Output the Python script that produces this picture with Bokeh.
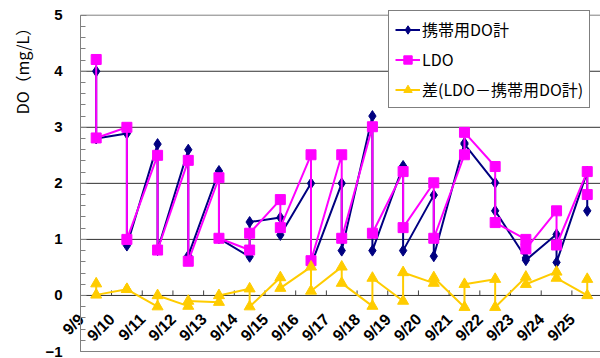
import numpy as np
from bokeh.plotting import figure
from bokeh.models import (Range1d, LinearAxis, FixedTicker, SingleIntervalTicker, Legend,
                          LegendItem, Label)
from bokeh.embed import file_html
from bokeh.resources import INLINE

# ---- data ----
dates = ["9/9", "9/10", "9/11", "9/12", "9/13", "9/14", "9/15", "9/16", "9/17",
         "9/18", "9/19", "9/20", "9/21", "9/22", "9/23", "9/24", "9/25"]
# two measurements per day (first, second)
portable_1 = [4.00, 2.89, 2.70, 2.60, 2.22, 0.69, 1.39, 2.00, 2.00, 3.20, 2.31, 1.79, 2.72, 2.01, 0.67, 1.09, 2.21]
portable_2 = [2.80, 0.89, 0.81, 0.71, 1.02, 1.31, 1.08, 0.54, 0.80, 0.80, 0.80, 0.70, 2.70, 1.51, 0.63, 0.59, 1.51]
ldo_1 = [4.21, 3.00, 2.50, 2.41, 2.10, 0.81, 1.71, 2.51, 2.51, 3.01, 2.21, 2.01, 2.51, 2.30, 1.00, 1.51, 2.21]
ldo_2 = [2.81, 1.00, 0.81, 0.61, 1.02, 1.11, 1.21, 0.62, 1.02, 1.11, 1.21, 1.02, 2.91, 1.30, 0.83, 0.90, 1.80]
diff_1 = [0.21, 0.11, -0.20, -0.19, -0.12, 0.12, 0.32, 0.51, 0.51, -0.19, -0.10, 0.22, -0.21, 0.29, 0.33, 0.42, 0.00]
diff_2 = [0.01, 0.11, 0.00, -0.10, 0.00, -0.20, 0.13, 0.08, 0.22, 0.31, 0.41, 0.32, 0.20, -0.21, 0.20, 0.31, 0.29]

series_names = ["携帯用DO計", "LDO", "差(LDO－携帯用DO計)"]
y_label = "DO（mg/L）"
y_min, y_max = -1, 5
y_ticks = list(range(y_min, y_max + 1))

NAVY = "#000080"
PINK = "#FF00FF"
YELLOW = "#FFCC00"

# ---- layout (pixels) ----
W, H = 600, 358
AXIS_PX = 80.0      # x pixel of the value axis
CAT0_PX = 95.7      # x pixel of first day
STEP_PX = 30.69     # pixels per day
TOP_PX = 14.7       # y pixel of y_max
BOT_PX = 351.0      # y pixel of y_min

n = len(dates)
unit = (BOT_PX - TOP_PX) / (y_max - y_min)
x_start = -CAT0_PX / STEP_PX
x_end = (W - CAT0_PX) / STEP_PX
ax_x = (AXIS_PX - CAT0_PX) / STEP_PX
y_top = y_max + TOP_PX / unit
y_bot = y_min - (H - BOT_PX) / unit

xs = [i for i in range(n) for _ in (0, 1)]


def interleave(a, b):
    return [v for pair in zip(a, b) for v in pair]


portable = interleave(portable_1, portable_2)
ldo = interleave(ldo_1, ldo_2)
diff = interleave(diff_1, diff_2)

p = figure(width=W, height=H, output_backend="svg", toolbar_location=None,
           x_range=Range1d(x_start, x_end), y_range=Range1d(y_bot, y_top),
           x_axis_location=None, y_axis_location=None,
           min_border_left=0, min_border_right=0, min_border_top=0, min_border_bottom=0)
p.background_fill_color = "white"
p.border_fill_color = "white"
p.outline_line_color = None
p.grid.visible = False

# horizontal grid lines (outer ones form the plot border)
grid_colors = ["#808080" if t in (y_min, y_max) else "#303030" for t in y_ticks]
p.segment(x0=[ax_x] * len(y_ticks), x1=[x_end] * len(y_ticks), y0=y_ticks, y1=y_ticks,
          line_color=grid_colors, line_width=1)

# value axis
ya = LinearAxis(fixed_location=ax_x, bounds=(y_min, y_max),
                ticker=SingleIntervalTicker(interval=1, num_minor_ticks=5),
                major_label_text_font="Liberation Sans",
                major_label_text_font_style="bold",
                major_label_text_font_size="15px",
                major_label_text_color="black",
                major_label_standoff=18,
                axis_line_color="#808080",
                major_tick_in=6, major_tick_out=0,
                minor_tick_in=5, minor_tick_out=0,
                major_tick_line_color="#808080", minor_tick_line_color="#808080")
p.add_layout(ya, "left")

p.add_layout(Label(x=21.5, y=H - 66.5, x_units="screen", y_units="screen", text=y_label,
                   angle=np.pi / 2, text_align="center", text_baseline="middle",
                   text_font="Noto Sans CJK JP", text_font_size="16px",
                   text_color="black"))

# category tick marks between days, on the zero line
bounds = [i + 0.5 for i in range(n - 1)]
p.segment(x0=bounds, y0=[0] * len(bounds), x1=bounds, y1=[5.0 / unit] * len(bounds),
          line_color="#404040", line_width=1)

# rotated date labels along the zero line
label_pos = [i - 0.49 for i in range(n)]
xa = LinearAxis(fixed_location=0,
                ticker=FixedTicker(ticks=label_pos),
                major_label_overrides={t: d for t, d in zip(label_pos, dates)},
                major_label_orientation=np.pi / 4,
                major_label_standoff=21,
                major_tick_in=0, major_tick_out=0,
                axis_line_color=None,
                major_label_text_font="Liberation Sans",
                major_label_text_font_style="bold",
                major_label_text_font_size="16px",
                major_label_text_color="black")
p.add_layout(xa, "below")

# series
r1 = p.line(xs, portable, line_color=NAVY, line_width=2)
s1 = p.scatter(xs, portable, marker="diamond", size=11, fill_color=NAVY, line_color=NAVY)
r2 = p.line(xs, ldo, line_color=PINK, line_width=2)
s2 = p.scatter(xs, ldo, marker="square", size=10, fill_color=PINK, line_color=PINK)
r3 = p.line(xs, diff, line_color=YELLOW, line_width=2)
s3 = p.scatter(xs, diff, marker="triangle", size=11, fill_color=YELLOW, line_color=YELLOW)

legend = Legend(items=[LegendItem(label=series_names[0], renderers=[r1, s1]),
                       LegendItem(label=series_names[1], renderers=[r2, s2]),
                       LegendItem(label=series_names[2], renderers=[r3, s3])],
                location=(388, 250), margin=0, padding=6, spacing=6,
                glyph_width=25, glyph_height=21, label_height=21, label_standoff=2,
                label_text_font="Noto Sans CJK JP", label_text_font_size="16px",
                label_text_color="black",
                border_line_color="black", border_line_width=1,
                background_fill_color="white", background_fill_alpha=1)
p.add_layout(legend)

open("out.html", "w").write(file_html(p, INLINE))
